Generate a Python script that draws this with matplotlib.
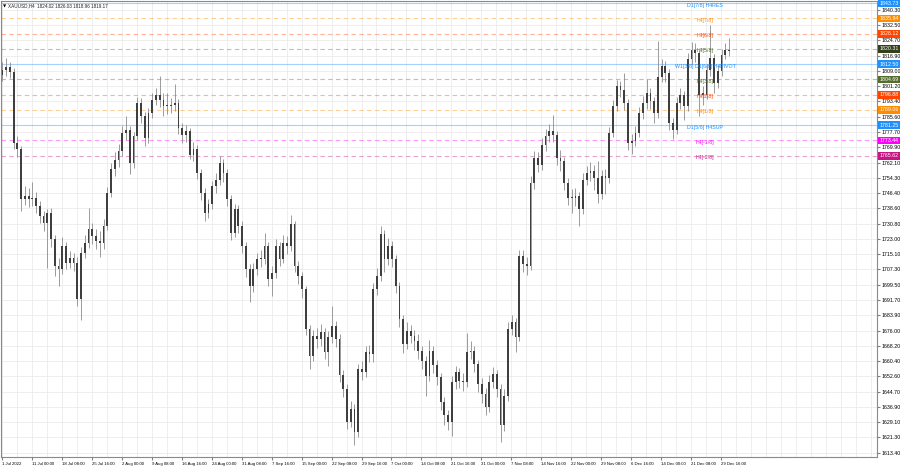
import matplotlib
matplotlib.use('Agg')
import matplotlib.pyplot as plt
import matplotlib.transforms as mtransforms

plt.rcParams['font.family'] = ['Liberation Sans', 'DejaVu Sans']

# XAUUSD H4 in groups of 4 bars (1 Jul - 30 Dec 2022)
first_open = 1807.0
close = [
    1809.6, 1811.3, 1808.3, 1772.0, 1768.8, 1743.2, 1744.9, 1743.2, 1744.1, 1739.8,
    1734.7, 1731.3, 1736.4, 1722.8, 1709.1, 1707.4, 1719.4, 1710.8, 1713.4, 1710.8,
    1692.1, 1716.0, 1721.1, 1727.9, 1724.5, 1722.0, 1721.1, 1729.6, 1746.6, 1758.6,
    1763.6, 1767.9, 1777.3, 1779.0, 1761.9, 1775.6, 1792.6, 1785.8, 1774.7, 1787.5,
    1794.3, 1796.9, 1794.3, 1790.9, 1790.9, 1791.8, 1792.6, 1779.8, 1776.4, 1778.1,
    1766.2, 1768.8, 1756.8, 1746.6, 1736.4, 1740.7, 1750.0, 1753.4, 1761.9, 1756.8,
    1743.2, 1726.2, 1738.1, 1729.6, 1719.4, 1707.4, 1698.9, 1707.4, 1712.6, 1712.6,
    1719.4, 1702.3, 1705.7, 1719.4, 1712.6, 1721.1, 1719.4, 1730.4, 1709.1, 1704.0,
    1697.2, 1676.8, 1663.2, 1673.4, 1671.7, 1675.1, 1664.9, 1672.5, 1678.5, 1671.7,
    1653.0, 1646.2, 1629.1, 1636.0, 1624.0, 1656.3, 1654.6, 1664.9, 1664.0, 1697.2,
    1704.0, 1725.3, 1712.6, 1719.4, 1712.6, 1698.9, 1681.9, 1669.1, 1675.9, 1673.4,
    1670.8, 1665.7, 1660.6, 1652.9, 1665.7, 1658.1, 1652.1, 1639.3, 1632.5, 1629.1,
    1649.5, 1654.6, 1650.4, 1649.5, 1664.9, 1665.7, 1658.9, 1648.7, 1643.6, 1636.8,
    1649.5, 1653.8, 1646.2, 1627.4, 1642.7, 1676.8, 1680.2, 1672.5, 1714.3, 1710.0,
    1709.1, 1751.7, 1764.5, 1761.1, 1771.3, 1775.6, 1778.1, 1776.4, 1764.5, 1762.8,
    1751.7, 1744.1, 1744.1, 1744.9, 1738.1, 1753.4, 1756.8, 1757.7, 1754.3, 1745.8,
    1755.1, 1754.3, 1777.3, 1790.9, 1801.1, 1799.4, 1792.6, 1772.2, 1773.0, 1777.3,
    1787.5, 1792.6, 1797.7, 1793.5, 1787.5, 1806.2, 1811.4, 1808.0, 1782.4, 1779.0,
    1792.6, 1796.9, 1790.9, 1815.0, 1820.0, 1818.0, 1796.9, 1796.9, 1809.6, 1815.6,
    1802.8, 1808.8, 1817.3, 1819.9, 1819.2,
]
high = [
    1813.5, 1815.5, 1813.5, 1810.5, 1775.5, 1770.5, 1750.0, 1749.0, 1752.0, 1747.0,
    1742.5, 1737.5, 1738.5, 1739.0, 1725.0, 1713.0, 1724.0, 1721.5, 1717.0, 1716.0,
    1713.5, 1719.0, 1725.0, 1739.0, 1731.0, 1728.0, 1727.0, 1733.0, 1749.5, 1762.0,
    1767.5, 1771.5, 1781.0, 1786.0, 1781.0, 1778.0, 1795.5, 1795.0, 1788.0, 1790.0,
    1797.5, 1800.5, 1806.5, 1798.0, 1797.5, 1795.0, 1802.5, 1794.5, 1782.5, 1781.5,
    1780.0, 1772.5, 1771.0, 1759.0, 1749.0, 1743.5, 1752.5, 1757.0, 1765.5, 1764.0,
    1759.0, 1745.5, 1741.0, 1740.5, 1732.0, 1721.5, 1710.0, 1710.5, 1716.0, 1717.5,
    1726.0, 1721.5, 1709.0, 1723.0, 1721.5, 1725.0, 1724.5, 1735.0, 1732.0, 1711.5,
    1706.0, 1699.0, 1679.0, 1676.5, 1677.5, 1679.5, 1677.5, 1676.0, 1688.5, 1681.0,
    1674.0, 1656.0, 1648.5, 1640.0, 1638.5, 1659.0, 1660.5, 1668.0, 1668.5, 1700.5,
    1708.0, 1729.5, 1727.5, 1723.5, 1722.0, 1714.5, 1701.0, 1684.0, 1680.5, 1679.0,
    1676.5, 1674.0, 1668.0, 1663.0, 1671.0, 1668.0, 1661.0, 1654.5, 1642.0, 1635.5,
    1652.5, 1658.0, 1657.0, 1654.5, 1674.5, 1670.5, 1668.0, 1661.0, 1651.5, 1646.5,
    1653.0, 1657.5, 1656.0, 1648.5, 1646.0, 1680.5, 1684.0, 1682.5, 1717.5, 1717.5,
    1713.5, 1755.0, 1768.0, 1767.5, 1774.5, 1779.5, 1782.0, 1786.5, 1778.5, 1768.5,
    1765.0, 1754.0, 1748.5, 1749.0, 1747.0, 1756.5, 1760.5, 1762.5, 1761.0, 1763.0,
    1758.5, 1759.0, 1780.5, 1794.0, 1804.5, 1804.0, 1808.0, 1794.5, 1776.5, 1781.0,
    1790.5, 1796.0, 1805.0, 1800.5, 1795.5, 1824.5, 1815.0, 1814.0, 1810.0, 1785.0,
    1795.5, 1800.5, 1799.0, 1818.5, 1824.0, 1823.5, 1820.0, 1801.5, 1812.5, 1832.5,
    1817.5, 1812.0, 1820.5, 1823.5, 1826.0,
]
low = [
    1804.0, 1806.5, 1805.5, 1769.0, 1765.0, 1737.5, 1740.5, 1739.5, 1740.0, 1736.0,
    1731.0, 1727.0, 1708.0, 1719.0, 1704.0, 1699.0, 1705.0, 1707.5, 1708.0, 1706.5,
    1688.5, 1681.5, 1713.0, 1718.5, 1720.5, 1718.0, 1713.5, 1718.0, 1727.5, 1744.5,
    1755.0, 1760.0, 1765.5, 1773.5, 1756.0, 1759.5, 1773.5, 1782.5, 1770.5, 1772.0,
    1785.0, 1791.5, 1790.5, 1786.0, 1787.0, 1787.5, 1788.5, 1776.5, 1772.0, 1772.5,
    1764.0, 1763.0, 1753.5, 1743.0, 1732.0, 1733.5, 1738.5, 1746.5, 1750.5, 1752.0,
    1740.0, 1722.5, 1724.0, 1726.0, 1716.0, 1703.5, 1690.5, 1696.0, 1704.5, 1708.5,
    1710.0, 1699.0, 1693.5, 1703.0, 1709.0, 1710.5, 1715.0, 1717.0, 1706.0, 1700.0,
    1692.5, 1673.5, 1656.5, 1660.5, 1667.0, 1668.0, 1661.5, 1658.0, 1669.5, 1667.5,
    1649.5, 1642.0, 1625.5, 1626.5, 1617.5, 1621.5, 1650.5, 1652.0, 1660.0, 1660.0,
    1694.0, 1701.5, 1706.0, 1709.5, 1708.5, 1695.5, 1678.0, 1664.5, 1666.5, 1669.5,
    1666.0, 1661.5, 1656.5, 1642.5, 1650.0, 1654.0, 1648.0, 1635.5, 1627.5, 1625.0,
    1622.0, 1646.0, 1646.5, 1645.0, 1647.0, 1661.5, 1655.0, 1644.5, 1639.0, 1632.5,
    1634.5, 1646.5, 1642.0, 1619.0, 1624.5, 1640.0, 1673.5, 1665.0, 1670.5, 1706.0,
    1704.5, 1707.0, 1748.5, 1757.5, 1758.5, 1768.0, 1772.5, 1772.5, 1761.0, 1758.0,
    1748.0, 1740.5, 1736.5, 1740.0, 1729.5, 1735.5, 1750.5, 1752.5, 1748.0, 1741.5,
    1743.5, 1746.0, 1751.5, 1775.0, 1788.5, 1795.5, 1789.0, 1768.5, 1766.5, 1770.5,
    1775.0, 1784.5, 1789.5, 1789.5, 1782.5, 1785.0, 1803.5, 1803.5, 1779.0, 1774.0,
    1776.5, 1789.5, 1784.0, 1788.5, 1812.5, 1813.5, 1786.0, 1791.5, 1794.5, 1806.5,
    1797.5, 1800.5, 1806.5, 1815.0, 1816.5,
]

date_labels = ['11 Jul 00:00', '18 Jul 08:00', '25 Jul 16:00', '2 Aug 00:00', '9 Aug 08:00',
               '16 Aug 16:00', '24 Aug 00:00', '31 Aug 08:00', '7 Sep 16:00', '15 Sep 00:00',
               '22 Sep 08:00', '29 Sep 16:00', '7 Oct 00:00', '14 Oct 08:00', '21 Oct 16:00',
               '31 Oct 00:00', '7 Nov 08:00', '14 Nov 16:00', '22 Nov 00:00', '29 Nov 08:00',
               '6 Dec 16:00', '14 Dec 00:00', '21 Dec 08:00', '29 Dec 16:00']

price_ticks = [1840.30, 1832.50, 1824.70, 1816.90, 1809.00, 1801.20, 1793.40, 1785.60,
               1777.70, 1769.90, 1762.10, 1754.30, 1746.40, 1738.60, 1730.80, 1723.00,
               1715.10, 1707.30, 1699.50, 1691.70, 1683.90, 1676.00, 1668.20, 1660.40,
               1652.60, 1644.70, 1636.90, 1629.10, 1621.30, 1613.40]

# Murrey math levels
levels = [1843.73, 1835.94, 1828.12, 1820.31, 1812.50, 1804.69,
          1796.88, 1789.06, 1781.25, 1773.44, 1765.62]
level_names = ['D1[7/8] H4RES', 'H4[7/8]', 'H4[6/8]', 'H4[5/8]', 'W1[3/8] D1[6/8] H4PIVOT',
               'H4[3/8]', 'H4[2/8]', 'H4[1/8]', 'D1[5/8] H4SUP', 'H4[-1/8]', 'H4[-2/8]']
level_colors = ['#1e90ff', '#ff8c00', '#ff4500', '#556b2f', '#1e90ff', '#556b2f',
                '#ff4500', '#ff8c00', '#1e90ff', '#ff00ff', '#c71585']
box_colors = ['#1e90ff', '#ff8c00', '#ff4500', '#33401c', '#1e90ff', '#556b2f',
              '#ff4500', '#ff8c00', '#1e90ff', '#ff00ff', '#c71585']
level_solid = [True, False, False, False, True, False, False, False, True, False, False]

fig = plt.figure(figsize=(9, 4.68), dpi=100)
ax = fig.add_axes([1 / 900, 11 / 468, 876 / 900, 456 / 468])

# candles, one per group of 4 H4 bars
step = 4
for i, c in enumerate(close):
    o = first_open if i == 0 else close[i - 1]
    x = step * i + 1.5
    ax.vlines(x, low[i], high[i], color='#8c8c8c', lw=0.6, zorder=3)
    ax.bar(x, max(abs(c - o), 0.6), bottom=min(o, c), width=1.9,
           color='#3f3f3f', lw=0, zorder=4)

for v, name, col, solid in zip(levels, level_names, level_colors, level_solid):
    ax.axhline(v, color=col, lw=0.8, alpha=0.4, ls='-' if solid else (0, (4, 3)), zorder=2)
    ax.text(752, v - 1.0, name, color=col, fontsize=3.8, ha='center', va='center', zorder=5)

trans = mtransforms.blended_transform_factory(ax.transAxes, ax.transData)
for v, col in zip(levels, box_colors):
    ax.text(1 + 2.5 / 876, v, f'{v:.2f}', transform=trans, color='white', fontsize=3.8,
            ha='left', va='center', clip_on=False,
            bbox=dict(boxstyle='square,pad=0.25', fc=col, ec='none'))

ax.set_xlim(0, 935.5)
ax.set_ylim(1611.2, 1844.9)

ax.yaxis.tick_right()
ax.set_yticks(price_ticks)
ax.set_yticklabels([f'{p:.2f}' for p in price_ticks])
ax.tick_params(axis='y', labelsize=3.8, length=2, pad=1.2, color='#808080')

xt = [1.5] + [33 + 32 * k for k in range(len(date_labels))]
ax.set_xticks(xt)
ax.set_xticklabels(['1 Jul 2022'] + date_labels)
for lbl in ax.get_xticklabels():
    lbl.set_ha('left')
ax.tick_params(axis='x', labelsize=3.1, length=2, pad=1.5, color='#808080')
ax.set_xticks([33 + 16 * k for k in range(-2, 57)], minor=True)
ax.tick_params(axis='x', which='minor', length=0)

ax.grid(True, axis='x', which='both', color='#ebebeb', lw=0.6, zorder=0)
ax.grid(True, axis='y', which='major', color='#ebebeb', lw=0.6, zorder=0)
ax.set_axisbelow(True)
for s in ax.spines.values():
    s.set_color('#8a8a8a')
    s.set_linewidth(0.8)

ax.text(0.002, 0.993, '\u25bc', transform=ax.transAxes, fontsize=3.0, va='top', ha='left',
        family=['DejaVu Sans'])
ax.text(0.008, 0.994, 'XAUUSD,H4  1824.02 1826.03 1818.96 1819.17', transform=ax.transAxes,
        fontsize=3.3, va='top', ha='left', color='#222222')

fig.savefig('out.png', dpi=100, facecolor='white')
